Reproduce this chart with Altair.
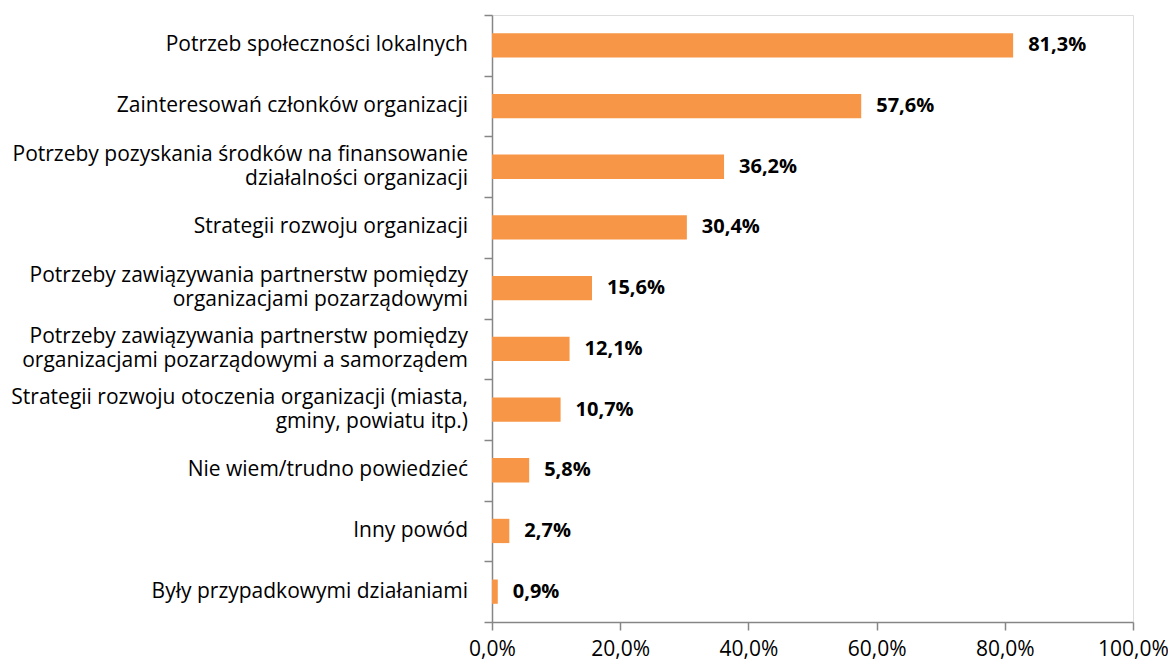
import altair as alt
import pandas as pd

categories = [
    "Potrzeb społeczności lokalnych",
    "Zainteresowań członków organizacji",
    "Potrzeby pozyskania środków na finansowanie\ndziałalności organizacji",
    "Strategii rozwoju organizacji",
    "Potrzeby zawiązywania partnerstw pomiędzy\norganizacjami pozarządowymi",
    "Potrzeby zawiązywania partnerstw pomiędzy\norganizacjami pozarządowymi a samorządem",
    "Strategii rozwoju otoczenia organizacji (miasta,\ngminy, powiatu itp.)",
    "Nie wiem/trudno powiedzieć",
    "Inny powód",
    "Były przypadkowymi działaniami",
]
values = [81.3, 57.6, 36.2, 30.4, 15.6, 12.1, 10.7, 5.8, 2.7, 0.9]
x_ticks = [0, 20, 40, 60, 80, 100]

df = pd.DataFrame({"cat": categories, "val": values})
df["lbl"] = [f"{v:.1f}%".replace(".", ",") for v in values]

FONT = "Open Sans"
AXIS_COLOR = "#868686"
WIDTH = 641
HEIGHT = 607
HALF_STEP = HEIGHT / len(categories) / 2
LINE_H = 24

y_enc = alt.Y(
    "cat:N",
    sort=categories,
    title=None,
    scale=alt.Scale(paddingInner=0, paddingOuter=0),
    axis=alt.Axis(
        labels=False,
        tickBand="extent",
        tickSize=8,
        tickColor=AXIS_COLOR,
        domainColor=AXIS_COLOR,
        tickWidth=1.5,
        domainWidth=1.5,
    ),
)

x_enc = alt.X(
    "val:Q",
    title=None,
    scale=alt.Scale(domain=[0, 100]),
    axis=alt.Axis(
        values=x_ticks,
        labelExpr="replace(format(datum.value, '.1f'), '.', ',') + '%'",
        labelFont=FONT,
        labelFontSize=21,
        labelColor="#000000",
        labelPadding=8,
        tickSize=8,
        tickColor=AXIS_COLOR,
        domainColor=AXIS_COLOR,
        tickWidth=1.5,
        domainWidth=1.5,
        grid=False,
        labelFlush=False,
    ),
)

bars = alt.Chart(df).mark_bar(color="#F79646", height=alt.RelativeBandSize(0.4)).encode(x=x_enc, y=y_enc)

values_text = alt.Chart(df).mark_text(
    align="left", baseline="middle", dx=15, font=FONT, fontSize=20, fontWeight="bold", color="#000000"
).encode(x="val:Q", y=alt.Y("cat:N", sort=categories), text="lbl:N")

cat_text = (
    alt.Chart(df)
    .transform_calculate(
        off=f"{HALF_STEP} + (indexof(datum.cat, '\\n') >= 0 ? {-LINE_H / 2} : 0)"
    )
    .mark_text(
        align="right", baseline="middle", lineBreak="\n", lineHeight=LINE_H,
        font=FONT, fontSize=21, color="#000000",
    )
    .encode(
        x=alt.value(-24),
        y=alt.Y("cat:N", sort=categories),
        yOffset=alt.YOffset("off:Q", scale=None),
        text="cat:N",
    )
)

chart = (
    alt.layer(bars, values_text, cat_text)
    .properties(
        width=WIDTH,
        height=HEIGHT,
        autosize=alt.AutoSizeParams(type="none"),
        padding={"left": 484, "top": 7, "right": 35, "bottom": 38},
    )
    .configure_view(stroke=None)
    .configure(background="#ffffff")
)

chart.save("out.html", embed_options={"renderer": "svg", "actions": False})
